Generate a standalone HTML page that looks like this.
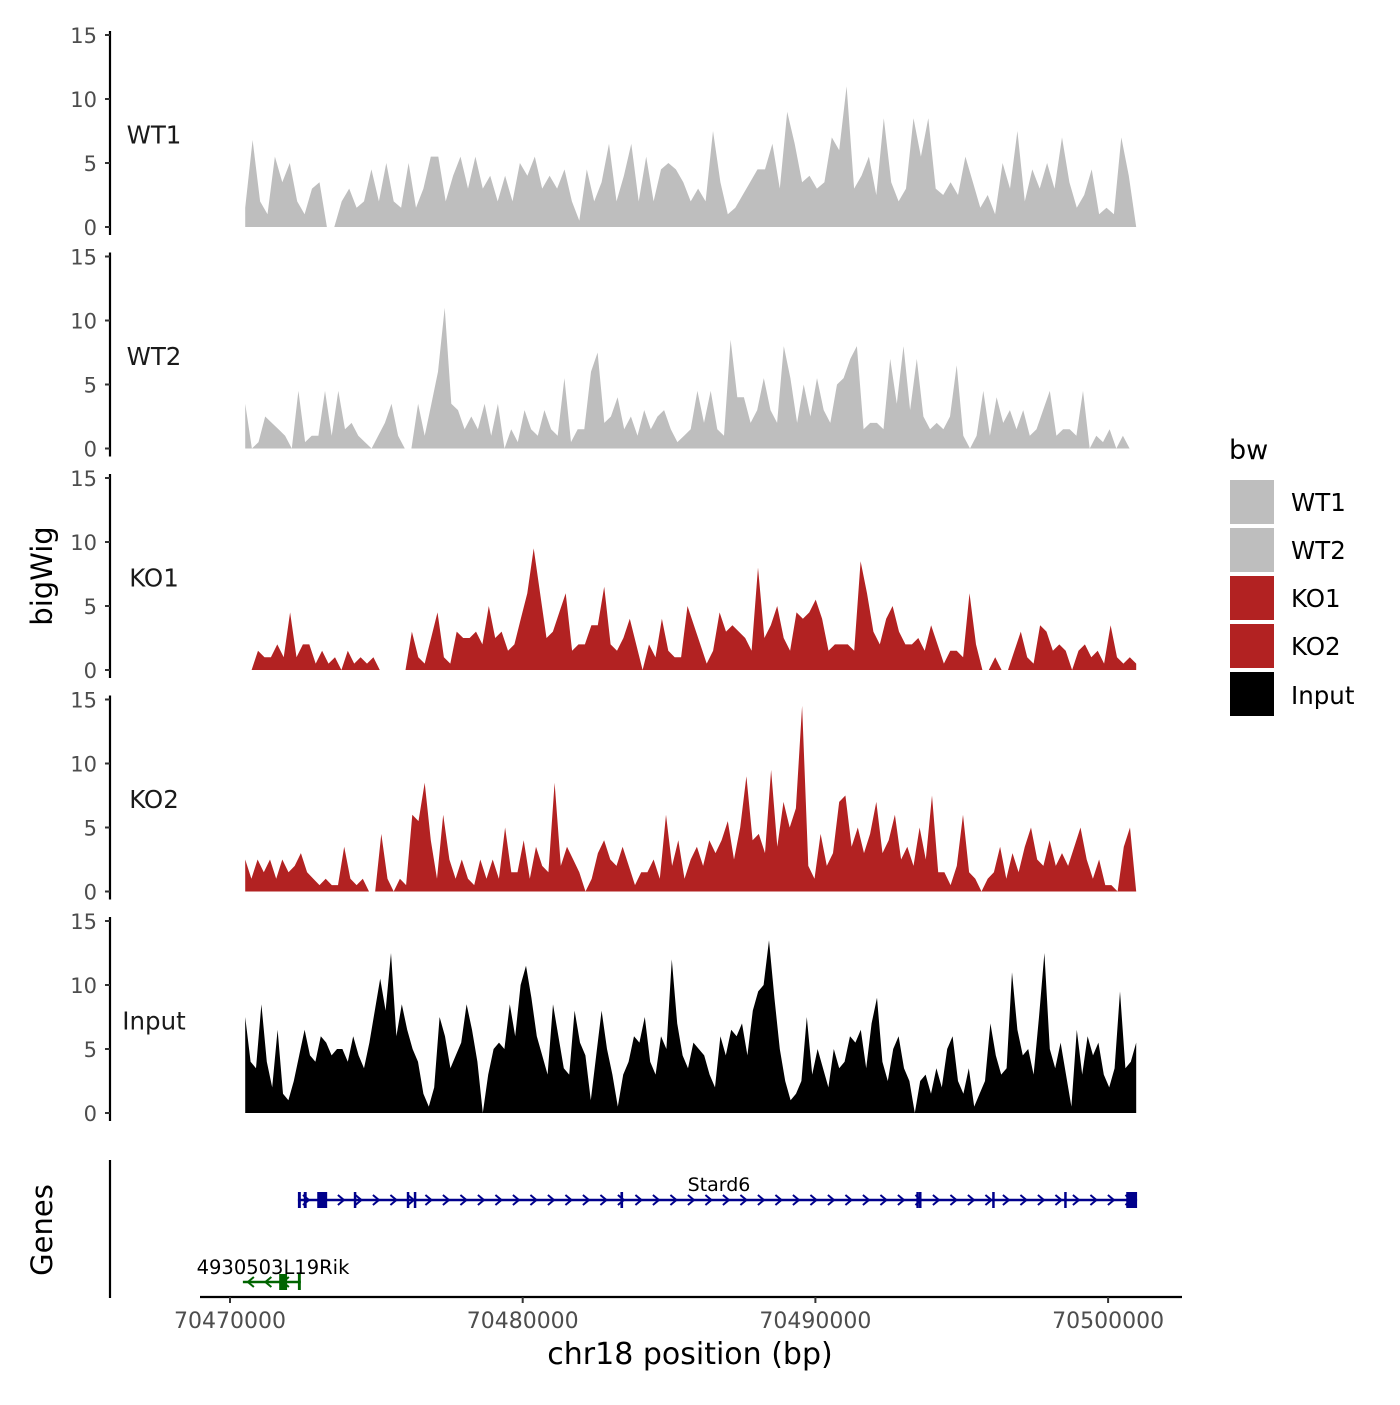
<!DOCTYPE html>
<html><head><meta charset="utf-8"><style>
body{margin:0;background:#fff}
svg{font-family:"DejaVu Sans","Liberation Sans",sans-serif}
</style></head><body>
<svg id="c" width="1400" height="1400" xmlns="http://www.w3.org/2000/svg"></svg>
<script>
const trackNames=["WT1","WT2","KO1","KO2","Input"];
const trackColors=["#bebebe","#bebebe","#b22222","#b22222","#000000"];
const wt1=[1.5,6.8,2,1,5.5,3.5,5,2,1,3,3.5,0,0,2,3,1.5,2,4.5,2,5,2,1.5,5,1.5,3,5.5,5.5,2,4,5.5,3,5.5,3,4,2,4,2,5,4,5.5,3,4,3,4.5,2,0.5,4.5,2,3.5,6.5,2,4,6.5,2,5.5,2,4.5,5,4.5,3.5,2,3,2,7.5,3.5,1,1.5,2.5,3.5,4.5,4.5,6.5,3,9,6.5,3.5,4,3,3.5,7,6,11,3,4,5.5,2.5,8.5,3.5,2,3,8.5,5.5,8.5,3,2.5,3.5,2.5,5.5,3.5,1.5,2.5,1,5,3,7.5,2,4.5,3,5,3,7,3.5,1.5,2.5,4.5,1,1.5,1,7,4,0];
const wt2=[3.5,0,0.5,2.5,2,1.5,1,0,4.5,0.5,1,1,4.5,1,4.5,1.5,2,1,0.5,0,1,2,3.5,1,0,0,3.5,1,3.5,6,11,3.5,3,1.5,2.5,1.5,3.5,1,3.5,0,1.5,0.5,3,1.5,1,3,1.5,1,5.5,0.5,1.5,1.5,6,7.5,2,2.5,4,1.5,2.5,1,3,1.5,2.5,3,1.5,0.5,1,1.5,4.5,2,4.5,1.5,1,8.5,4,4,2,3,5.5,3,2,8,5.5,2,5,2.5,5.5,3,2,5,5.5,7,8,1.5,2,2,1.5,7,3.5,8,3,7,2.5,1.5,2,1.5,2.5,6.5,1,0,1,4.5,1,4,2,3,1.5,3,1,1.5,3,4.5,1,1.5,1.5,1,4.5,0,1,0.5,1.5,0,1,0,0];
const ko1=[0,0,1.5,1,1,2,1,4.5,1,2,2,0.5,1.5,0.5,1,0,1.5,0.5,1,0.5,1,0,0,0,0,0,3,1,0.5,2.5,4.5,1,0.5,3,2.5,2.5,3,2,5,2.5,3,1.5,2,4,6,9.5,6,2.5,3,4.5,6,1.5,2,2,3.5,3.5,6.5,2,1.5,2.5,4,2,0,2,1,4,1.5,1,1,5,3.5,2,0.5,1.5,4.5,3,3.5,3,2.5,1.5,8,2.5,3.5,5,2.5,1.5,4.5,4,4.5,5.5,4,1.5,2,2,2,1.5,8.5,6,3,2,4,5,3,2,2,2.5,1.5,3.5,2,0.5,1.5,1.5,1,6,2,0,0,1,0,0,1.5,3,1,0.5,3.5,3,1.5,2,1.5,0,1.5,2,1,1.5,0.5,3.5,1,0.5,1,0.5];
const ko2=[2.5,1,2.5,1.5,2.5,1,2.5,1.5,2,3,1.5,1,0.5,1,0.5,0.5,3.5,1,0.5,1,0,0,4.5,1,0,1,0.5,6,5.5,8.5,4,1,6,2.5,1,2.5,1,0.5,2.5,1,2.5,1,5,1.5,1.5,4,1,3.5,2,1.5,8.5,2,3.5,2.5,1.5,0,1,3,4,2.5,2,3.5,2,0.5,1.5,1.5,2.5,1,6,2,4,1,2.5,3.5,2,4,3,4,5.5,2.5,5,9,4,4.5,3,9.5,3.5,7,5,6.5,14.5,2,1,4.5,2,3,7,7.5,3.5,5,3,4.5,7,3,4,6,2.5,3.5,2,5,2.5,7.5,1.5,1.5,0.5,2,6,1.5,1,0,1,1.5,3.5,1,3,1.5,3.5,5,2.5,2,4,2,3,2,3.5,5,2.5,1,2.5,0.5,0.5,0,3.5,5,0];
const inputVals=[7.5,4,3.5,8.5,4,2,6.5,1.5,1,2.5,4.5,6.5,4.5,4,6,5.5,4.5,5,5,4,6,4.5,3.5,5.5,8,10.5,8,12.5,6,8.5,6.5,5,4,1.5,0.5,2,7.5,6,3.5,4.5,5.5,8.5,6.5,4,0,3,5,5.5,5,8.5,6,10,11.5,9,6,4.5,3,8.5,6,3.5,3,8,5.5,4.5,1,4.5,8,5,3,0.5,3,4,6,5.5,7.5,4,3,6,5,12,7,4.5,3.5,5.5,5,4.5,3,2,6,4.5,6.5,6,7,4.5,8,9.5,10,13.5,9,5,2.5,1,1.5,2.5,7.5,3,5,3.5,2,5,3.5,4,6,5.5,6.5,3.5,7,9,4,2.5,5,6,3.5,2.5,0,2.5,3,1.5,3.5,2,5,6,2.5,1.5,3.5,0.5,1.5,2.5,7,4.5,3,3.5,11,6.5,4.5,5,3,7.5,12.5,5,3.5,5.5,3,0.5,6.5,3,6,4.5,5.5,3,2,3.5,9.5,3.5,4,5.5];
const trackData=[wt1,wt2,ko1,ko2,inputVals];
const yTicks=[0,5,10,15];
const xTicks=[70470000,70480000,70490000,70500000];
const dataStart=70470520, dataEnd=70500960;
const stard6Exons=[[70472320,70472420],[70472520,70472620],[70472980,70473320],[70474230,70474300],[70476040,70476110],[70476280,70476340],[70483340,70483430],[70493450,70493500],[70493540,70493580],[70496040,70496110],[70498500,70498570],[70500620,70500990]];
const stard6Range=[70472320,70500990];
const rikExons=[[70471680,70471950],[70472320,70472420]];
const rikRange=[70470440,70472420];

const NS="http://www.w3.org/2000/svg";
const svg=document.getElementById('c');
function el(tag,attrs,parent){const e=document.createElementNS(NS,tag);for(const k in attrs)e.setAttribute(k,attrs[k]);(parent||svg).appendChild(e);return e;}
function xs(bp){return 230+(bp-70470000)/10000*292.7;}
const panelTop=[35,256.5,478,699.5,921];
function ys(i,v){return panelTop[i]+192-v*12.8;}

trackData.forEach((vals,i)=>{
  const g=el('g',{});
  
  
  const n=vals.length;
  let d='M'+xs(dataStart)+','+ys(i,0);
  vals.forEach((v,k)=>{const bp=dataStart+(dataEnd-dataStart)*k/(n-1);d+=' L'+xs(bp).toFixed(1)+','+ys(i,v).toFixed(1);});
  d+=' L'+xs(dataEnd)+','+ys(i,0)+' Z';
  const p=el('path',{d:d,fill:trackColors[i]},g);
  
  
  const ax=el('line',{x1:110,x2:110,y1:ys(i,15)-4,y2:ys(i,0)+8,stroke:'#000','stroke-width':2.2},g);
  
  
  yTicks.forEach(t=>{
    el('line',{x1:105,x2:110,y1:ys(i,t),y2:ys(i,t),stroke:'#333','stroke-width':2},g);
    const tx=el('text',{x:97,y:ys(i,t)+8,'text-anchor':'end','font-size':21,fill:'#4d4d4d'},g);
    tx.textContent=t;
    
    
  });
  const lb=el('text',{x:154,y:ys(i,7)+6,'text-anchor':'middle','font-size':24.5,fill:'#1a1a1a'},g);
  lb.textContent=trackNames[i];
  
  
});

const gg=el('g',{});


el('line',{x1:110,x2:110,y1:1160,y2:1298,stroke:'#000','stroke-width':2.2},gg);
function drawGene(range,exons,y,color,dir,name,lx,ly,fs){
  const g=el('g',{},gg);
  
  
  el('line',{x1:xs(range[0]),x2:xs(range[1]),y1:y,y2:y,stroke:color,'stroke-width':2.5},g);
  for(let x=xs(range[0])+8;x<xs(range[1])-4;x+=17.5){
    const s=dir>0?'M'+(x-3)+','+(y-5)+' L'+(x+3)+','+y+' L'+(x-3)+','+(y+5):'M'+(x+3)+','+(y-5)+' L'+(x-3)+','+y+' L'+(x+3)+','+(y+5);
    el('path',{d:s,fill:'none',stroke:color,'stroke-width':2},g);
  }
  exons.forEach(e=>{const w=Math.max(2.5,xs(e[1])-xs(e[0]));el('rect',{x:xs(e[0]),y:y-8,width:w,height:16,fill:color},g);});
  const t=el('text',{x:lx,y:ly,'text-anchor':'middle','font-size':fs,fill:'#000'},g);
  t.textContent=name;
}
drawGene(stard6Range,stard6Exons,1200,'#00008b',1,'Stard6',719,1191,19);
drawGene(rikRange,rikExons,1282,'#006400',-1,'4930503L19Rik',273,1274,19.5);

const xa=el('g',{});


el('line',{x1:200,x2:1182,y1:1297,y2:1297,stroke:'#000','stroke-width':2.2},xa);
xTicks.forEach(t=>{
  el('line',{x1:xs(t),x2:xs(t),y1:1297,y2:1303,stroke:'#333','stroke-width':2},xa);
  const tx=el('text',{x:xs(t),y:1328,'text-anchor':'middle','font-size':22,fill:'#4d4d4d'},xa);
  tx.textContent=t;
  
  
});
</script>
<div style="position:absolute;left:0;top:0;width:1400px;height:1400px;pointer-events:none">
<svg width="1400" height="1400" style="font-family:'DejaVu Sans','Liberation Sans',sans-serif">
<text x="690" y="1364" text-anchor="middle" font-size="30">chr18 position (bp)</text>
<text transform="translate(52,576) rotate(-90)" text-anchor="middle" font-size="29">bigWig</text>
<text transform="translate(52,1230) rotate(-90)" text-anchor="middle" font-size="29">Genes</text>
<g>
<text x="1229" y="459" font-size="27">bw</text>
<rect x="1230" y="480" width="44" height="44" fill="#bebebe"/>
<rect x="1230" y="528" width="44" height="44" fill="#bebebe"/>
<rect x="1230" y="576" width="44" height="44" fill="#b22222"/>
<rect x="1230" y="624" width="44" height="44" fill="#b22222"/>
<rect x="1230" y="672" width="44" height="44" fill="#000"/>
<text x="1291" y="511" font-size="24.5">WT1</text>
<text x="1291" y="559" font-size="24.5">WT2</text>
<text x="1291" y="607" font-size="24.5">KO1</text>
<text x="1291" y="655" font-size="24.5">KO2</text>
<text x="1291" y="704" font-size="24.5">Input</text>
</g>
</svg></div>
</body></html>
